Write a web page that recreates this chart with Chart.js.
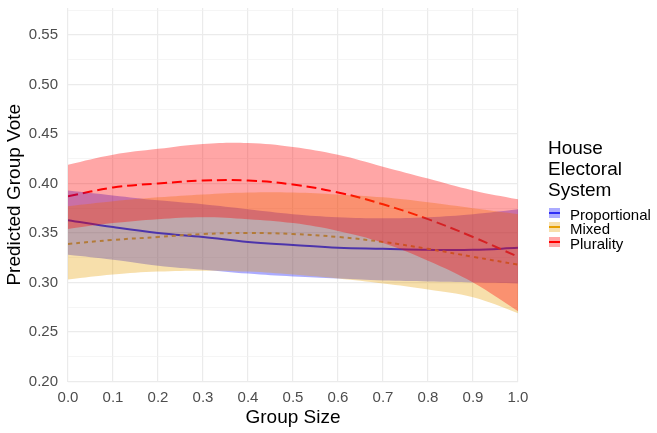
<!DOCTYPE html>
<html>
<head>
<meta charset="utf-8">
<title>Predicted Group Vote</title>
<script src="https://cdn.jsdelivr.net/npm/chart.js@4.4.0/dist/chart.umd.min.js"></script>
<style>
  html, body { margin: 0; padding: 0; background: #fff; }
  #wrap { position: relative; width: 657px; height: 433px; font-family: "Liberation Sans", Arial, sans-serif; }
  #legend { position: absolute; left: 548px; top: 136.5px; color: #000; }
  .lt { font-size: 19px; line-height: 21px; white-space: nowrap; }
  .items { margin-top: 8px; }
  .item { position: relative; height: 14.5px; font-size: 15px; line-height: 14.5px; padding-left: 22px; white-space: nowrap; }
  .key { position: absolute; left: 1px; top: 0; width: 11px; height: 10px; }
  .key i { position: absolute; left: 0; right: 0; top: 4px; border-top: 2px solid; }
</style>
</head>
<body>
<div id="wrap">
  <canvas id="chart" width="657" height="433"></canvas>
  <div id="legend">
    <div class="lt">House</div>
    <div class="lt">Electoral</div>
    <div class="lt">System</div>
    <div class="items">
      <div class="item"><span class="key" style="background:#ababff"><i style="border-top-color:#2e2ef5"></i></span>Proportional</div>
      <div class="item"><span class="key" style="background:#f7dfab"><i style="border-top-style:dashed;border-top-color:#e69f00"></i></span>Mixed</div>
      <div class="item"><span class="key" style="background:#ffa6a6"><i style="border-top-color:#ff0000"></i></span>Plurality</div>
    </div>
  </div>
</div>
<script>
// values
var groupSize = [0, 0.1, 0.2, 0.3, 0.4, 0.5, 0.6, 0.7, 0.8, 0.9, 1.0];

var propFit   = [0.363, 0.356, 0.350, 0.346, 0.341, 0.338, 0.335, 0.334, 0.333, 0.333, 0.335];
var propUpper = [0.393, 0.388, 0.383, 0.379, 0.374, 0.369, 0.366, 0.365, 0.366, 0.369, 0.374];
var propLower = [0.328, 0.323, 0.317, 0.313, 0.309, 0.306, 0.304, 0.302, 0.301, 0.300, 0.299];

var mixedFit   = [0.339, 0.343, 0.346, 0.349, 0.350, 0.349, 0.346, 0.341, 0.334, 0.326, 0.318];
var mixedUpper = [0.377, 0.382, 0.386, 0.389, 0.391, 0.391, 0.389, 0.386, 0.381, 0.375, 0.369];
var mixedLower = [0.303, 0.308, 0.311, 0.312, 0.311, 0.308, 0.304, 0.299, 0.293, 0.285, 0.269];

var pluralFit   = [0.387, 0.396, 0.400, 0.403, 0.403, 0.399, 0.391, 0.379, 0.364, 0.346, 0.326];
var pluralUpper = [0.419, 0.429, 0.435, 0.440, 0.441, 0.437, 0.429, 0.417, 0.405, 0.393, 0.384];
var pluralLower = [0.354, 0.360, 0.364, 0.366, 0.364, 0.360, 0.352, 0.340, 0.322, 0.300, 0.271];

var xTicks = [0, 0.1, 0.2, 0.3, 0.4, 0.5, 0.6, 0.7, 0.8, 0.9, 1.0];
var yTicks = [0.2, 0.225, 0.25, 0.275, 0.3, 0.325, 0.35, 0.375, 0.4, 0.425, 0.45, 0.475, 0.5, 0.525, 0.55, 0.575];

function pts(ys) {
  return groupSize.map(function (x, i) { return { x: x, y: ys[i] }; });
}
function isMajor(v) {
  return Math.round(v * 1000) % 50 === 0;
}

Chart.defaults.font.family = '"Liberation Sans", Arial, sans-serif';

function line(label, ys, color, dash, order) {
  return {
    label: label, data: pts(ys), borderColor: color, borderWidth: 2,
    borderDash: dash, pointRadius: 0, tension: 0.4, fill: false, order: order
  };
}
function edge(ys, fill, bg, order) {
  return {
    data: pts(ys), borderWidth: 0, borderColor: 'rgba(0,0,0,0)', pointRadius: 0,
    tension: 0.4, fill: fill, backgroundColor: bg, order: order
  };
}

// higher order is drawn first: lines go under the ribbons, red ribbon on top
var datasets = [
  line('Plurality', pluralFit, '#ff0000', [10, 5], 20),
  line('Mixed', mixedFit, '#e69f00', [4, 4], 21),
  line('Proportional', propFit, '#0000ff', [], 22),
  edge(propLower, false, 'rgba(0,0,0,0)', 13),
  edge(propUpper, 3, 'rgba(0,0,255,0.33)', 12),
  edge(mixedLower, false, 'rgba(0,0,0,0)', 13),
  edge(mixedUpper, 5, 'rgba(230,159,0,0.33)', 11),
  edge(pluralLower, false, 'rgba(0,0,0,0)', 13),
  edge(pluralUpper, 7, 'rgba(255,0,0,0.35)', 10)
];

new Chart(document.getElementById('chart'), {
  type: 'line',
  data: { datasets: datasets },
  options: {
    responsive: false,
    animation: false,
    layout: { padding: { top: 8, right: 139, left: 0, bottom: 0 } },
    plugins: {
      legend: { display: false },
      tooltip: { enabled: false },
      filler: { drawTime: 'beforeDatasetDraw', propagate: false }
    },
    scales: {
      x: {
        type: 'linear', min: 0, max: 1,
        afterBuildTicks: function (s) { s.ticks = xTicks.map(function (v) { return { value: v }; }); },
        afterFit: function (s) { s.height = 51.5; s.paddingLeft = 0; s.paddingRight = 0; },
        grid: { color: '#ebebeb', lineWidth: 1.2, drawTicks: false },
        border: { display: false },
        ticks: {
          padding: 7, color: '#4d4d4d', font: { size: 15 }, maxRotation: 0, autoSkip: false,
          callback: function (v) { return Number(v).toFixed(1); }
        },
        title: { display: true, text: 'Group Size', color: '#000', font: { size: 19 }, padding: { top: 0, bottom: 4 } }
      },
      y: {
        type: 'linear', min: 0.2, max: 0.5773,
        afterBuildTicks: function (s) { s.ticks = yTicks.map(function (v) { return { value: v }; }); },
        afterFit: function (s) { s.width = 68; s.paddingTop = 0; s.paddingBottom = 0; },
        grid: {
          drawTicks: false,
          color: function (c) { return isMajor(c.tick.value) ? '#ebebeb' : '#f0f0f0'; },
          lineWidth: function (c) { return isMajor(c.tick.value) ? 1.2 : 0.7; }
        },
        border: { display: false },
        ticks: {
          padding: 10, color: '#4d4d4d', font: { size: 15 }, autoSkip: false,
          callback: function (v) { return isMajor(v) ? Number(v).toFixed(2) : ''; }
        },
        title: { display: true, text: 'Predicted Group Vote', color: '#000', font: { size: 19 }, padding: { top: 3, bottom: 0 } }
      }
    }
  }
});
</script>
</body>
</html>
